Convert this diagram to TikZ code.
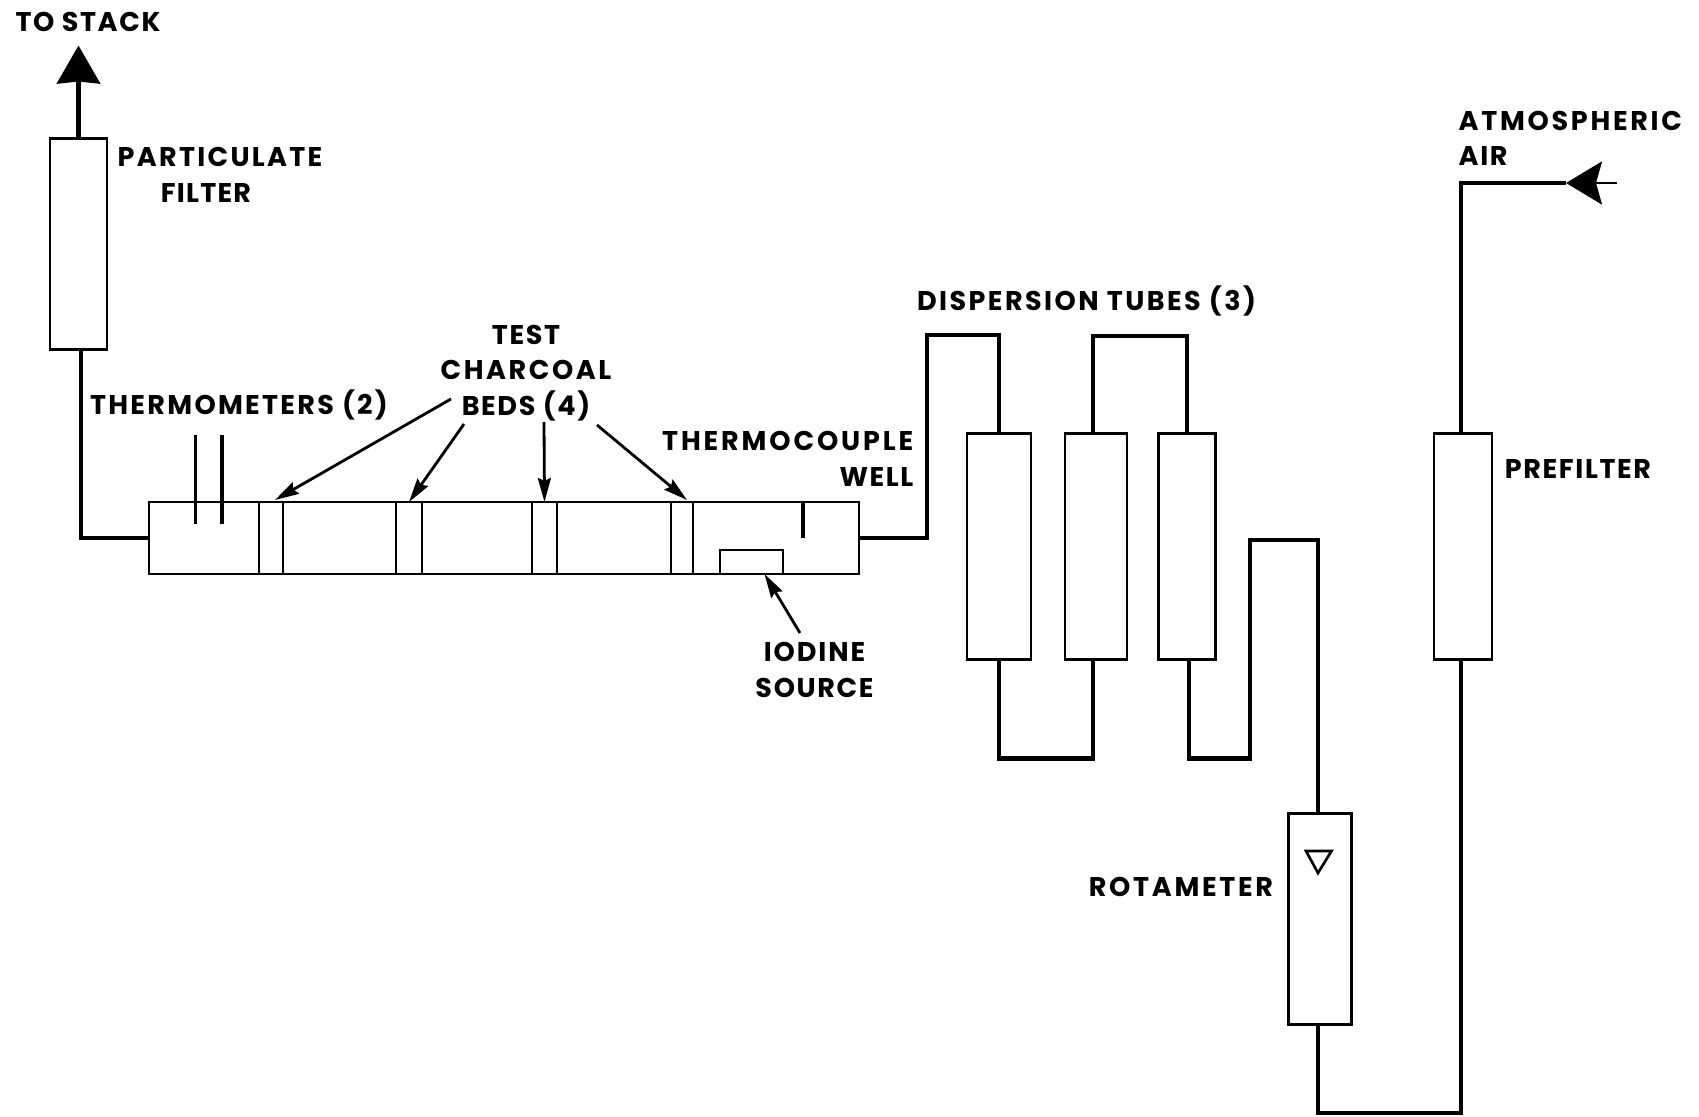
\documentclass[tikz,border=0pt]{standalone}
\usepackage{fontspec}
\usetikzlibrary{arrows.meta}
\newfontfamily\labelfont[LetterSpace=6]{Poppins}
\newcommand{\lsp}[1]{\addfontfeature{LetterSpace=#1}}
\tikzset{
  vessel/.style={draw,line width=0.75pt,inner sep=0pt,outer sep=0pt},
  pipe/.style={line width=1.4pt,line join=miter},
  leader/.style={line width=0.8pt,-{Stealth[length=0.24cm,width=0.13cm,inset=0.03cm]}},
  lbl/.style={font=\fontsize{7.7}{10.1}\selectfont\labelfont\bfseries,inner sep=0pt,align=center}
}
\begin{document}
\begin{tikzpicture}
\useasboundingbox (0,0) rectangle (16.99,11.16);
% vessels
\node[vessel,minimum width=0.57cm,minimum height=2.11cm] (filter) at (0.785,8.72) {};
\node[vessel,minimum width=7.10cm,minimum height=0.72cm] (chamber) at (5.04,5.78) {};
\node[vessel,minimum width=0.24cm,minimum height=0.72cm] (bedA) at (2.71,5.78) {};
\node[vessel,minimum width=0.26cm,minimum height=0.72cm] (bedB) at (4.09,5.78) {};
\node[vessel,minimum width=0.25cm,minimum height=0.72cm] (bedC) at (5.445,5.78) {};
\node[vessel,minimum width=0.22cm,minimum height=0.72cm] (bedD) at (6.82,5.78) {};
\node[vessel,minimum width=0.63cm,minimum height=0.24cm] (iodine) at (7.515,5.54) {};
\node[vessel,minimum width=0.64cm,minimum height=2.265cm] (tubeA) at (9.99,5.695) {};
\node[vessel,minimum width=0.62cm,minimum height=2.265cm] (tubeB) at (10.96,5.695) {};
\node[vessel,minimum width=0.57cm,minimum height=2.265cm] (tubeC) at (11.87,5.695) {};
\node[vessel,minimum width=0.63cm,minimum height=2.115cm] (rotameter) at (13.2,1.97) {};
\node[vessel,minimum width=0.58cm,minimum height=2.265cm] (prefilter) at (14.63,5.695) {};
% bends of the piping
\coordinate (stackTip) at (0.785,10.705);
\coordinate (riseA) at (9.27,7.81);
\coordinate (linkAB) at (10.5,3.575);
\coordinate (linkBC) at (11.4,7.80);
\coordinate (riseC) at (12.5,3.575);
\coordinate (riseD) at (12.5,5.76);
\coordinate (loopE) at (14,0.03);
\coordinate (airTip) at (15.66,9.33);
\coordinate (airEnd) at (16.17,9.33);
\coordinate (airCorner) at (14.61,9.33);
% piping
\draw[pipe,-{Stealth[length=0.38cm,width=0.43cm,inset=0.02cm]}] (filter.north) -- (stackTip);
\draw[pipe] ([xshift=0.025cm]filter.south) |- (chamber.west);
\draw[pipe] (chamber.east) -| (riseA) -| (tubeA.north);
\draw[pipe] (tubeA.south) |- (linkAB) -| ([xshift=-0.03cm]tubeB.south);
\draw[pipe] ([xshift=-0.03cm]tubeB.north) |- (linkBC) -| (tubeC.north);
\draw[pipe] ([xshift=0.02cm]tubeC.south) |- (riseC) -- (riseD) -| ([xshift=-0.02cm]rotameter.north);
\draw[pipe] ([xshift=-0.02cm]rotameter.south) |- (loopE) -| ([xshift=-0.02cm]prefilter.south);
\draw[pipe] (airTip) -- (airCorner) -- ([xshift=-0.02cm]prefilter.north);
\draw[line width=0.8pt,-{Stealth[length=0.36cm,width=0.43cm,inset=0.06cm]}] (airEnd) -- (airTip);
% thermometers, well and float
\draw[line width=1pt] (1.955,6.81) -- (1.955,5.92);
\draw[line width=1pt] (2.22,6.81) -- (2.22,5.92);
\draw[line width=1pt] (8.03,6.14) -- (8.03,5.78);
\draw[line width=0.75pt] (13.06,2.65) -- (13.315,2.65) -- (13.18,2.43) -- cycle;
% labels
\node[lbl] (stackLabel) at (0.88,10.945) {TO STACK};
\node[lbl] (filterLabel) at (2.2,9.41) {\lsp{8.5}PARTICULATE\\\lsp{4.5}FILTER\hspace*{0.28cm}};
\node[lbl] (thermoLabel) at (2.39,7.11) {\lsp{8.5}THERMOMETERS (2)};
\node[lbl] (bedsLabel) at (5.26,7.43) {TEST\\\lsp{9.5}CHARCOAL\\\lsp{6}BEDS (4)};
\node[lbl,align=right,anchor=east] (wellLabel) at (9.14,6.57) {\lsp{10.6}THERMOCOUPLE\\\lsp{6}WELL};
\node[lbl] (iodineLabel) at (8.145,4.46) {\lsp{7}IODINE\\SOURCE};
\node[lbl] (tubesLabel) at (10.865,8.15) {\lsp{9}DISPERSION TUBES (3)};
\node[lbl,align=left,anchor=west] (airLabel) at (14.58,9.775) {\lsp{10}ATMOSPHERIC\\\lsp{6}AIR};
\node[lbl] (prefilterLabel) at (15.78,6.47) {PREFILTER};
\node[lbl] (rotameterLabel) at (11.81,2.29) {\lsp{10}ROTAMETER};
% leaders
\coordinate (bedsTailA) at (4.51,7.17);
\coordinate (bedsTailB) at (4.64,6.92);
\coordinate (bedsTailC) at (5.44,6.94);
\coordinate (bedsTailD) at (5.97,6.91);
\coordinate (iodineTail) at (8.0,4.83);
\draw[leader] (bedsTailA) -- ([xshift=0.04cm,yshift=0.02cm]bedA.north);
\draw[leader] (bedsTailB) -- (bedB.north);
\draw[leader] (bedsTailC) -- (bedC.north);
\draw[leader] (bedsTailD) -- ([xshift=0.05cm,yshift=0.02cm]bedD.north);
\draw[leader] (iodineTail) -- ([xshift=0.13cm]iodine.south);
\end{tikzpicture}
\end{document}
